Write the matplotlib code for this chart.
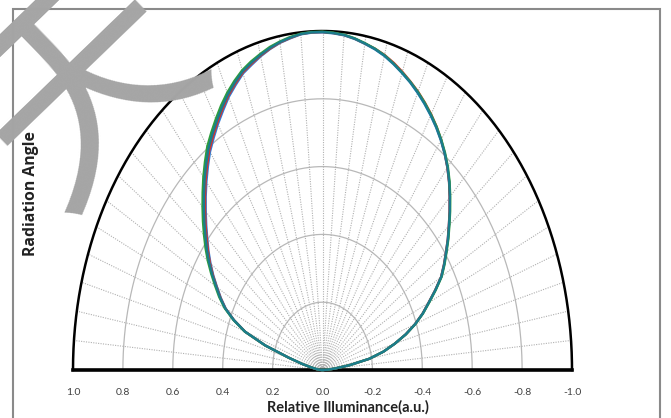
import matplotlib
matplotlib.use("Agg")
import matplotlib.pyplot as plt
import numpy as np
from matplotlib.patches import Rectangle

plt.rcParams['font.family'] = ['Lato', 'DejaVu Sans']

# angle from vertical in degrees, + is the left half (positive illuminance side)
angles = [-90, -87.5, -85, -82.5, -80, -77.5, -75, -72.5, -70, -67.5, -65, -62.5,
          -60, -57.5, -55, -52.5, -50, -47.5, -45, -42.5, -40, -37.5, -35, -32.5,
          -30, -27.5, -25, -22.5, -20, -17.5, -15, -12.5, -10, -7.5, -5, -2.5,
          0, 2.5, 5, 7.5, 10, 12.5, 15, 17.5, 20, 22.5, 25, 27.5, 30, 32.5, 35,
          37.5, 40, 42.5, 45, 47.5, 50, 52.5, 55, 57.5, 60, 62.5, 65, 67.5, 70,
          72.5, 75, 77.5, 80, 82.5, 85, 87.5, 90]

teal = [0.0, 0.02, 0.05, 0.11, 0.19, 0.25, 0.30, 0.35, 0.395, 0.435, 0.47, 0.51,
        0.55, 0.578, 0.605, 0.634, 0.662, 0.692, 0.722, 0.752, 0.78, 0.805, 0.828, 0.849,
        0.868, 0.886, 0.903, 0.919, 0.933, 0.947, 0.96, 0.97, 0.978, 0.986, 0.992, 0.995,
        0.997, 0.997, 0.995, 0.989, 0.982, 0.973, 0.962, 0.95, 0.937, 0.918, 0.897, 0.873,
        0.848, 0.823, 0.797, 0.766, 0.735, 0.703, 0.672, 0.642, 0.612, 0.584, 0.555,
        0.524, 0.492, 0.463, 0.43, 0.385, 0.33, 0.24, 0.14, 0.085, 0.05, 0.03, 0.02,
        0.01, 0.0]
green = [0.0, 0.02, 0.05, 0.11, 0.19, 0.25, 0.30, 0.351, 0.396, 0.436, 0.472, 0.512,
         0.552, 0.58, 0.607, 0.636, 0.664, 0.694, 0.724, 0.754, 0.782, 0.807, 0.83, 0.851,
         0.87, 0.888, 0.905, 0.92, 0.934, 0.948, 0.961, 0.971, 0.979, 0.987, 0.993, 0.996,
         0.998, 0.998, 0.996, 0.991, 0.984, 0.976, 0.965, 0.954, 0.941, 0.923, 0.903, 0.880,
         0.855, 0.830, 0.805, 0.774, 0.743, 0.711, 0.680, 0.650, 0.620, 0.591, 0.561,
         0.529, 0.497, 0.467, 0.433, 0.387, 0.332, 0.241, 0.141, 0.085, 0.05, 0.03, 0.02,
         0.01, 0.0]
red = [0.0, 0.02, 0.05, 0.11, 0.19, 0.25, 0.30, 0.35, 0.394, 0.434, 0.469, 0.509,
       0.549, 0.577, 0.604, 0.633, 0.661, 0.691, 0.721, 0.751, 0.779, 0.805, 0.829, 0.851,
       0.871, 0.889, 0.906, 0.921, 0.936, 0.950, 0.962, 0.971, 0.978, 0.986, 0.992, 0.995,
       0.997, 0.997, 0.995, 0.988, 0.981, 0.971, 0.960, 0.947, 0.934, 0.914, 0.893, 0.868,
       0.843, 0.817, 0.791, 0.760, 0.729, 0.697, 0.666, 0.636, 0.606, 0.579, 0.551,
       0.521, 0.490, 0.461, 0.429, 0.384, 0.33, 0.24, 0.14, 0.085, 0.05, 0.03, 0.02,
       0.01, 0.0]
blue = [0.0, 0.02, 0.05, 0.11, 0.19, 0.25, 0.30, 0.35, 0.394, 0.434, 0.469, 0.509,
        0.549, 0.577, 0.604, 0.633, 0.661, 0.691, 0.721, 0.751, 0.779, 0.804, 0.827, 0.848,
        0.867, 0.885, 0.902, 0.918, 0.932, 0.946, 0.959, 0.969, 0.977, 0.985, 0.991, 0.994,
        0.996, 0.996, 0.994, 0.987, 0.980, 0.970, 0.958, 0.944, 0.931, 0.910, 0.889, 0.863,
        0.838, 0.812, 0.786, 0.755, 0.724, 0.693, 0.662, 0.632, 0.603, 0.576, 0.548,
        0.519, 0.488, 0.459, 0.428, 0.383, 0.33, 0.24, 0.14, 0.085, 0.05, 0.03, 0.02,
        0.01, 0.0]

xtick_vals = [1.0, 0.8, 0.6, 0.4, 0.2, 0.0, -0.2, -0.4, -0.6, -0.8, -1.0]
ring_radii = [0.2, 0.4, 0.6, 0.8]

fig = plt.figure(figsize=(6.71, 4.18), dpi=100)
ax = fig.add_axes([73 / 671, 48 / 418, 499 / 671, 339 / 418])
ax.set_xlim(1.0, -1.0)
ax.set_ylim(0, 1.0)
for s in ax.spines.values():
    s.set_visible(False)

# grid: rings and radial dotted spokes every 5 degrees
t = np.linspace(0, np.pi, 300)
for r in ring_radii:
    ax.plot(r * np.cos(t), r * np.sin(t), color='#b8b8b8', lw=0.9, zorder=1)
for a in range(5, 180, 5):
    ang = np.radians(a)
    ax.plot([0, np.cos(ang)], [0, np.sin(ang)], color='#b0b0b0', lw=0.8,
            ls=(0, (1, 1.2)), zorder=1)

# outer boundary
ax.plot(np.cos(t), np.sin(t), color='black', lw=1.8, zorder=3, clip_on=False)
ax.plot([1, -1], [0, 0], color='black', lw=2.6, zorder=3, clip_on=False)

# measured curves
th = np.radians(angles)
for vals, col in [(blue, '#2f7fd8'), (red, '#d8302c'), (green, '#2e9e3c'), (teal, '#1b7c8c')]:
    v = np.array(vals)
    ax.plot(v * np.sin(th), v * np.cos(th), color=col, lw=1.7, zorder=4,
            clip_on=False, solid_joinstyle='round')

ax.set_xticks(xtick_vals)
ax.set_xticklabels(['%.1f' % v for v in xtick_vals])
ax.tick_params(axis='x', length=0, pad=13, labelsize=7.5, labelcolor='#404040')
ax.set_yticks([])

ax.set_xlabel('Relative Illuminance(a.u.)', fontsize=10.5, fontweight='bold', color='#222222')
ax.xaxis.set_label_coords(275 / 499, -30 / 339)
ax.set_ylabel('Radiation Angle', fontsize=11.3, fontweight='bold', color='#222222',
              family=['Open Sans', 'DejaVu Sans'])
ax.yaxis.set_label_coords(-34 / 499, 176 / 339)

# outer frame of the picture
fig.patches.append(Rectangle((13 / 671, -0.05), 647 / 671, 0.05 + 409 / 418,
                             transform=fig.transFigure, fill=False,
                             edgecolor='#8a8a8a', lw=1.5))

# watermark glyph in the upper left corner (cut by the picture edge, as in the source)
fig.text(90 / 671, 1 - 88 / 418, '天', fontsize=160, color='#a5a5a5',
         family=['Noto Sans CJK SC'], rotation=44, rotation_mode='anchor',
         ha='center', va='center', zorder=10)

fig.savefig('out.png', dpi=100)
